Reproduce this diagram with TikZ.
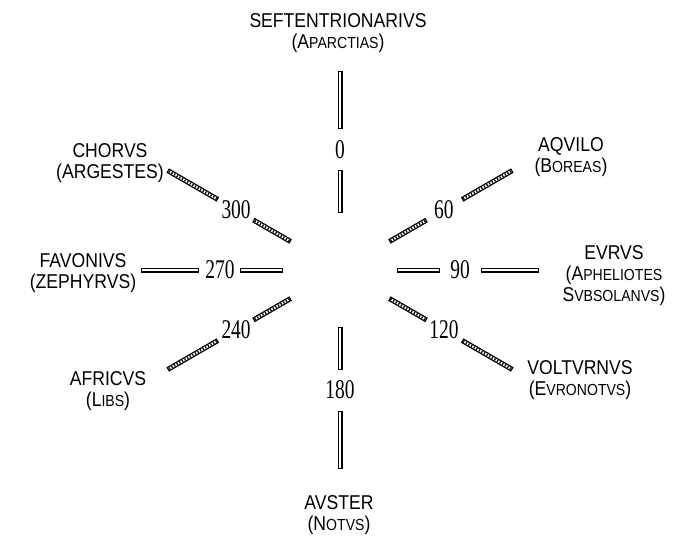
\documentclass[tikz,border=0pt]{standalone}
\usepackage{fontspec}
\usepackage{graphicx}
\usepackage{tikz}
\usetikzlibrary{calc}
\newfontfamily\namefont{Liberation Sans}
\newfontfamily\numfont{Liberation Serif}
\colorlet{ink}{black}
\tikzset{
  bar/.style={draw=ink, line width=5pt,
    postaction={draw=white, line width=2.4pt, shorten <=1.3pt, shorten >=1.3pt}},
  slantbar/.style={bar,
    postaction={draw=ink, line width=2.4pt, dash pattern=on 1.2pt off 1.8pt, shorten <=1.3pt, shorten >=1.3pt}},
  wind/.style={font=\namefont\fontsize{20}{21}\selectfont, inner sep=0pt},
  degree/.style={font=\numfont\fontsize{27}{27}\selectfont, inner sep=0pt}
}
\newcommand{\windname}[2]{\scalebox{0.88}[1]{\begin{tabular}{@{}c@{}}#1\\#2\end{tabular}}}
\newcommand{\sm}[1]{{\fontsize{16}{21}\selectfont #1}}

\begin{document}
\begin{tikzpicture}[x=1pt,y=-1pt]
  \fill[white] (0,0) rectangle (687,536);
  \useasboundingbox (0,0) rectangle (687,536);
  \coordinate (hub) at (340,270);

  % spokes: inner bar, degree, outer bar
  \foreach \az/\kind in {0/bar,60/slantbar,90/bar,120/slantbar,180/bar,240/slantbar,270/bar,300/slantbar}{
    \coordinate (a\az) at ($(hub)+({\az-90}:57)$);
    \coordinate (b\az) at ($(hub)+({\az-90}:100)$);
    \coordinate (c\az) at ($(hub)+({\az-90}:141)$);
    \coordinate (d\az) at ($(hub)+({\az-90}:199)$);
    \node[degree] (n\az) at ($(hub)+({\az-90}:120)$) {\scalebox{0.72}[1]{\az}};
    \draw[\kind] (a\az) -- (b\az);
    \draw[\kind] (c\az) -- (d\az);
  }

  \node[wind] (w0) at (338,34) {\windname{SEFTENTRIONARIVS}{(A\sm{PARCTIAS})}};
  \node[wind] (w60) at (571,158) {\windname{AQVILO}{(B\sm{OREAS})}};
  \node[wind] (w90) at (614,276) {\windname{EVRVS}{(A\sm{PHELIOTES}\\S\sm{VBSOLANVS})}};
  \node[wind] (w120) at (580,381) {\windname{VOLTVRNVS}{(E\sm{VRONOTVS})}};
  \node[wind] (w180) at (339,516) {\windname{AVSTER}{(N\sm{OTVS})}};
  \node[wind] (w240) at (108,392) {\windname{AFRICVS}{(L\sm{IBS})}};
  \node[wind] (w270) at (83,274) {\windname{FAVONIVS}{(ZEPHYRVS)}};
  \node[wind] (w300) at (110,164) {\windname{CHORVS}{(ARGESTES)}};
\end{tikzpicture}
\end{document}
